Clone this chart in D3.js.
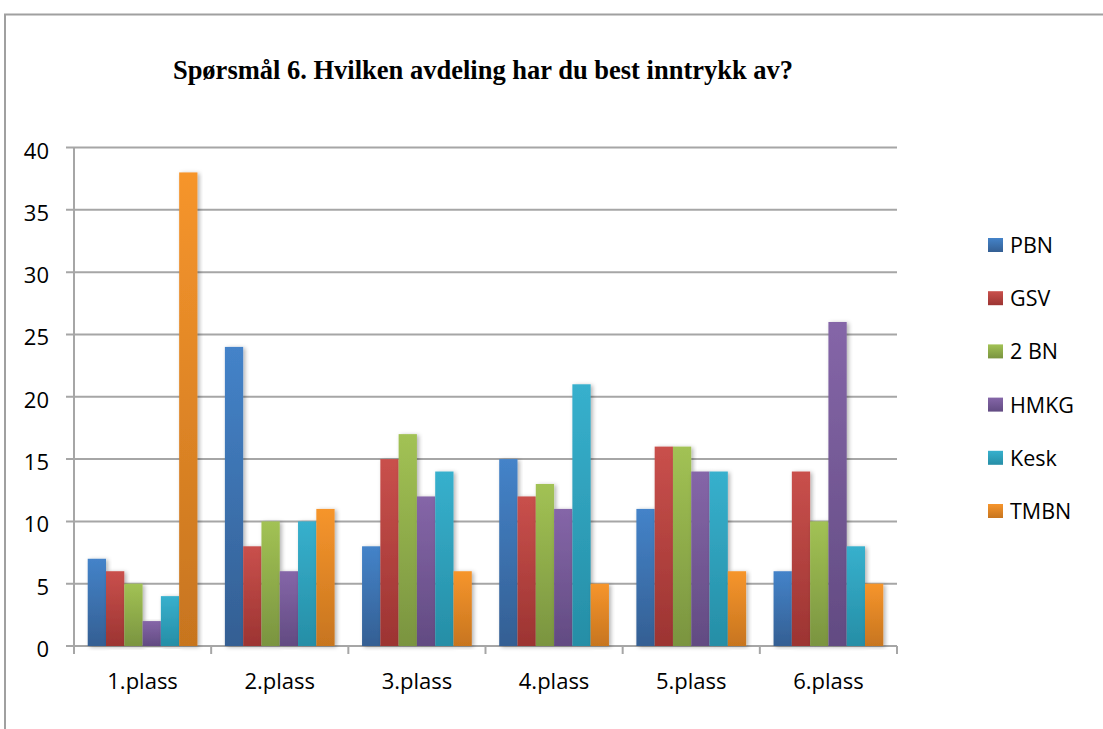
<!DOCTYPE html>
<html>
<head>
<meta charset="utf-8">
<script src="https://cdn.jsdelivr.net/npm/d3@7"></script>
<style>
  body { margin: 0; background: #fff; }
  svg { display: block; }
</style>
</head>
<body>
<div id="chart"></div>
<script>
// data
const categories = ["1.plass", "2.plass", "3.plass", "4.plass", "5.plass", "6.plass"];
const seriesNames = ["PBN", "GSV", "2 BN", "HMKG", "Kesk", "TMBN"];
const pbn  = [7, 24, 8, 15, 11, 6];
const gsv  = [6, 8, 15, 12, 16, 14];
const bn2  = [5, 10, 17, 13, 16, 10];
const hmkg = [2, 6, 12, 11, 14, 26];
const kesk = [4, 10, 14, 21, 14, 8];
const tmbn = [38, 11, 6, 5, 6, 5];
const yTicks = [0, 5, 10, 15, 20, 25, 30, 35, 40];

const seriesValues = [pbn, gsv, bn2, hmkg, kesk, tmbn];

// top / bottom gradient colours per series
const colors = [
  ["#4483c9", "#345f93"],
  ["#c9504c", "#9c3432"],
  ["#a2c254", "#7a9440"],
  ["#8566a8", "#624b82"],
  ["#37b0cd", "#268ea6"],
  ["#f6952c", "#c7751f"]
];

const width = 1103, height = 729;
const plot = { left: 74, right: 897, top: 147.5, bottom: 646 };
const labelFont = "'Open Sans', 'Noto Sans', sans-serif";

const svg = d3.select("#chart").append("svg")
  .attr("width", width)
  .attr("height", height);

const defs = svg.append("defs");
colors.forEach((c, i) => {
  const g = defs.append("linearGradient")
    .attr("id", "grad" + i)
    .attr("x1", "0%").attr("y1", "0%")
    .attr("x2", "0%").attr("y2", "100%");
  g.append("stop").attr("offset", "0%").attr("stop-color", c[0]);
  g.append("stop").attr("offset", "100%").attr("stop-color", c[1]);
});
const shadow = defs.append("filter").attr("id", "shadow")
  .attr("x", "-30%").attr("y", "-5%").attr("width", "160%").attr("height", "110%");
shadow.append("feDropShadow")
  .attr("dx", 2).attr("dy", 1).attr("stdDeviation", 2)
  .attr("flood-color", "#000").attr("flood-opacity", 0.3);

// outer frame
svg.append("path")
  .attr("d", `M5,${height} V14.5 H${width}`)
  .attr("fill", "none")
  .attr("stroke", "#a0a0a0")
  .attr("stroke-width", 2);

// title
svg.append("text")
  .attr("x", 483)
  .attr("y", 79)
  .attr("text-anchor", "middle")
  .style("font-family", "'Liberation Serif', 'DejaVu Serif', serif")
  .style("font-weight", "bold")
  .style("font-size", "26.5px")
  .text("Spørsmål 6. Hvilken avdeling har du best inntrykk av?");

const x0 = d3.scaleBand()
  .domain(categories)
  .range([plot.left, plot.right])
  .paddingInner(0.2)
  .paddingOuter(0.1);

const x1 = d3.scaleBand()
  .domain(seriesNames)
  .range([0, x0.bandwidth()]);

const y = d3.scaleLinear()
  .domain([0, 40])
  .range([plot.bottom, plot.top]);

// gridlines
const grid = svg.append("g");
grid.selectAll("line")
  .data(yTicks)
  .join("line")
  .attr("x1", plot.left - 8)
  .attr("x2", plot.right)
  .attr("y1", d => y(d))
  .attr("y2", d => y(d))
  .attr("stroke", "#a6a6a6")
  .attr("stroke-width", 2);

// y axis line
svg.append("line")
  .attr("x1", plot.left).attr("x2", plot.left)
  .attr("y1", plot.top).attr("y2", plot.bottom + 8)
  .attr("stroke", "#a6a6a6")
  .attr("stroke-width", 2);

// y labels
svg.append("g").selectAll("text")
  .data(yTicks)
  .join("text")
  .attr("x", 49)
  .attr("y", d => y(d) + 11)
  .attr("text-anchor", "end")
  .style("font-family", labelFont)
  .style("font-size", "22px")
  .text(d => d);

// x ticks at category boundaries
const step = (plot.right - plot.left) / categories.length;
svg.append("g").selectAll("line")
  .data(d3.range(categories.length + 1))
  .join("line")
  .attr("x1", i => plot.left + i * step)
  .attr("x2", i => plot.left + i * step)
  .attr("y1", plot.bottom)
  .attr("y2", plot.bottom + 8)
  .attr("stroke", "#a6a6a6")
  .attr("stroke-width", 2);

// bars
const groups = svg.append("g").selectAll("g")
  .data(categories)
  .join("g")
  .attr("transform", d => `translate(${x0(d)},0)`);

groups.selectAll("rect")
  .data((c, ci) => seriesNames.map((s, si) => ({ s, si, v: seriesValues[si][ci] })))
  .join("rect")
  .attr("x", d => x1(d.s))
  .attr("y", d => y(d.v))
  .attr("width", x1.bandwidth())
  .attr("height", d => y(0) - y(d.v))
  .attr("fill", d => `url(#grad${d.si})`)
  .attr("filter", "url(#shadow)");

// x labels
svg.append("g").selectAll("text")
  .data(categories)
  .join("text")
  .attr("x", d => x0(d) + x0.bandwidth() / 2)
  .attr("y", 689)
  .attr("text-anchor", "middle")
  .style("font-family", labelFont)
  .style("font-size", "22px")
  .text(d => d);

// legend
const legend = svg.append("g").attr("transform", "translate(988,238)");
const items = legend.selectAll("g")
  .data(seriesNames)
  .join("g")
  .attr("transform", (d, i) => `translate(0,${i * 53.2})`);
items.append("rect")
  .attr("width", 15)
  .attr("height", 14)
  .attr("fill", (d, i) => `url(#grad${i})`);
items.append("text")
  .attr("x", 22)
  .attr("y", 15)
  .style("font-family", labelFont)
  .style("font-size", "21.5px")
  .text(d => d);
</script>
</body>
</html>
